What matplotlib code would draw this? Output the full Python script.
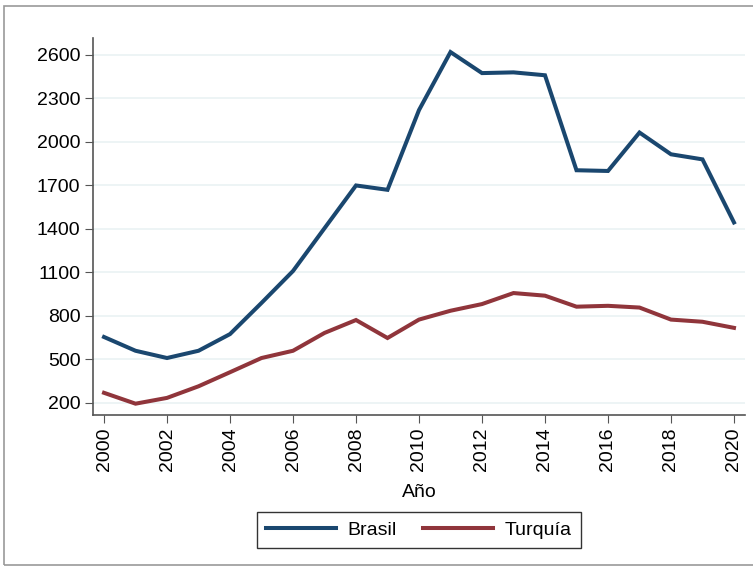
import matplotlib.pyplot as plt
from matplotlib.patches import Rectangle

# Data
years = list(range(2000, 2021))
brasil = [655, 560, 510, 560, 675, 890, 1110, 1405, 1700, 1670, 2220,
          2620, 2475, 2480, 2460, 1805, 1800, 2065, 1915, 1880, 1445]
turquia = [270, 195, 235, 315, 412, 510, 560, 683, 772, 648, 775,
           836, 882, 958, 940, 864, 870, 858, 775, 760, 718]
yticks = [200, 500, 800, 1100, 1400, 1700, 2000, 2300, 2600]
xticks = list(range(2000, 2021, 2))

plt.rcParams['font.family'] = ['Liberation Sans', 'DejaVu Sans']

fig = plt.figure(figsize=(7.53, 5.69), dpi=100)
ax = fig.add_axes([93 / 753, 1 - 415 / 569, (745 - 93) / 753, (415 - 38) / 569])

ax.plot(years, brasil, color='#1a476f', lw=2.9, label='Brasil', solid_joinstyle='miter')
ax.plot(years, turquia, color='#90353b', lw=2.9, label='Turquía', solid_joinstyle='miter')

ax.set_xlim(1999.65, 2020.35)
ax.set_ylim(117, 2717)
ax.set_yticks(yticks)
ax.set_xticks(xticks)
ax.tick_params(axis='x', labelrotation=90, labelsize=14, length=5.5, color='#555555')
ax.tick_params(axis='y', labelsize=14, length=5.5, color='#555555')
ax.grid(axis='y', color='#eaf2f3', lw=1.2)
ax.set_axisbelow(True)
for s in ['top', 'right']:
    ax.spines[s].set_visible(False)
for s in ['left', 'bottom']:
    ax.spines[s].set_color('#555555')
    ax.spines[s].set_linewidth(1.2)

ax.set_xlabel('Año', fontsize=14, labelpad=9)

leg = fig.legend(loc='center', bbox_to_anchor=(419 / 753, 1 - 530 / 569), ncol=2,
                 fontsize=14, frameon=True, fancybox=False, edgecolor='black',
                 handlelength=3.6, handletextpad=0.6, columnspacing=1.35,
                 borderpad=0.45)
leg.get_frame().set_linewidth(1.0)

# figure border
fig.patches.append(Rectangle((4 / 753, 1 - 565 / 569), 760 / 753, 559 / 569,
                             transform=fig.transFigure, fill=False,
                             edgecolor='#999999', lw=1.2))

fig.savefig('out.png', dpi=100)
